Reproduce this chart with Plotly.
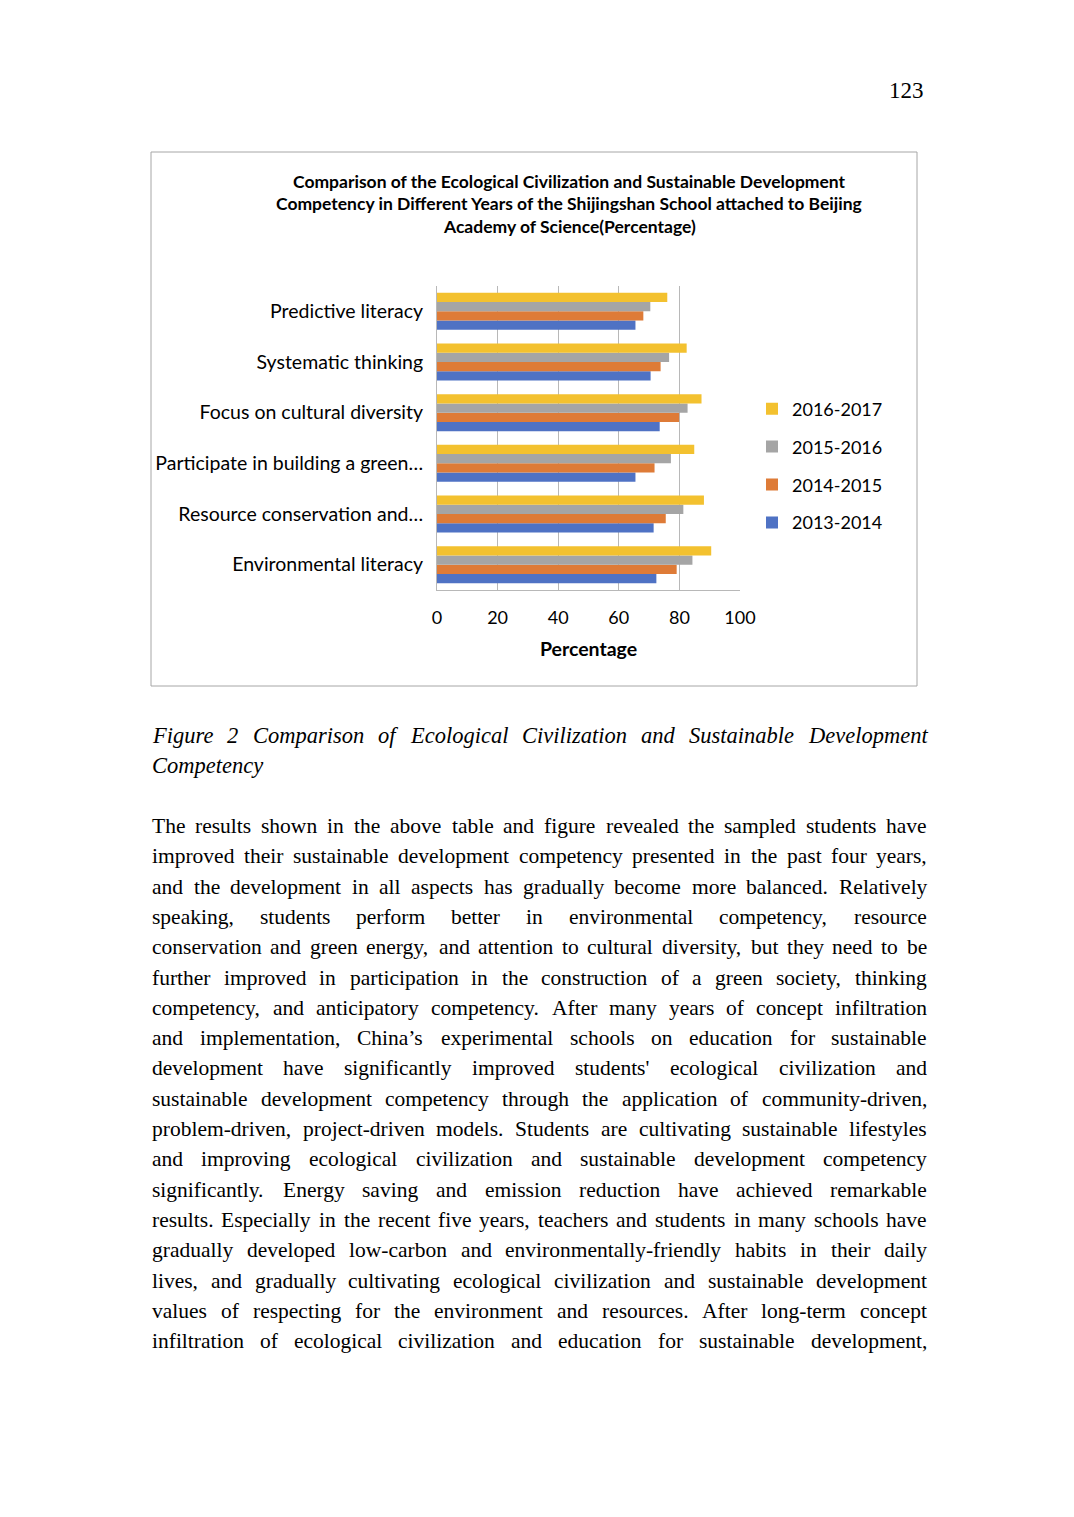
import plotly.graph_objects as go

# ---------------- data ----------------
categories = ["Environmental literacy", "Resource conservation and…",
              "Participate in building a green…", "Focus on cultural diversity",
              "Systematic thinking", "Predictive literacy"]
series_names = ["2013-2014", "2014-2015", "2015-2016", "2016-2017"]
v_2013_2014 = [72.4, 71.5, 65.5, 73.5, 70.5, 65.5]
v_2014_2015 = [79.1, 75.5, 71.8, 79.9, 73.8, 68.1]
v_2015_2016 = [84.3, 81.3, 77.2, 82.7, 76.6, 70.4]
v_2016_2017 = [90.5, 88.1, 84.9, 87.3, 82.4, 76.0]
x_tick_vals = [0, 20, 40, 60, 80, 100]
series_colors = ["#4F72C4", "#DE7B37", "#A5A5A5", "#F3C12F"]

chart_title_lines = [
    "Comparison of the Ecological Civilization and Sustainable Development",
    "Competency in Different Years of the Shijingshan School attached to Beijing",
    "Academy of Science(Percentage)",
]
x_title = "Percentage"
page_number = "123"
caption_lines = [
    "Figure 2 Comparison of Ecological Civilization and Sustainable Development",
    "Competency",
]
body_lines = [
    "The results shown in the above table and figure revealed the sampled students have",
    "improved their sustainable development competency presented in the past four years,",
    "and the development in all aspects has gradually become more balanced. Relatively",
    "speaking, students perform better in environmental competency, resource",
    "conservation and green energy, and attention to cultural diversity, but they need to be",
    "further improved in participation in the construction of a green society, thinking",
    "competency, and anticipatory competency. After many years of concept infiltration",
    "and implementation, China’s experimental schools on education for sustainable",
    "development have significantly improved students' ecological civilization and",
    "sustainable development competency through the application of community-driven,",
    "problem-driven, project-driven models. Students are cultivating sustainable lifestyles",
    "and improving ecological civilization and sustainable development competency",
    "significantly. Energy saving and emission reduction have achieved remarkable",
    "results. Especially in the recent five years, teachers and students in many schools have",
    "gradually developed low-carbon and environmentally-friendly habits in their daily",
    "lives, and gradually cultivating ecological civilization and sustainable development",
    "values of respecting for the environment and resources. After long-term concept",
    "infiltration of ecological civilization and education for sustainable development,",
]

# ---------------- page geometry ----------------
# page body has an 8px margin inside the 1074x1517 window
OFF = 8
W, H = 1074 - 2 * OFF, 1517 - 2 * OFF


def px(x):
    return (x - OFF) / W


def py(y):
    return 1 - (y - OFF) / H


# Times (Liberation Serif) advance widths, per 1000 em
ROMAN = dict(zip("abcdefghijklmnopqrstuvwxyz",
                 [444, 500, 444, 500, 444, 333, 500, 500, 278, 278, 500, 278, 778,
                  500, 500, 500, 500, 333, 389, 278, 500, 500, 722, 500, 500, 444]))
ROMAN.update(dict(zip("ABCDEFGHIJKLMNOPQRSTUVWXYZ",
                      [722, 667, 667, 722, 611, 556, 722, 722, 333, 389, 722, 611, 889,
                       722, 722, 556, 722, 667, 556, 611, 722, 722, 944, 722, 722, 611])))
ROMAN.update({",": 250, ".": 250, "'": 180, "’": 333, "-": 333, "(": 333, ")": 333, " ": 250})
ITALIC = dict(zip("abcdefghijklmnopqrstuvwxyz",
                  [500, 500, 444, 500, 444, 278, 500, 500, 278, 278, 444, 278, 722,
                   500, 500, 500, 500, 389, 389, 278, 500, 444, 667, 444, 444, 389]))
ITALIC.update(dict(zip("ABCDEFGHIJKLMNOPQRSTUVWXYZ",
                       [611, 611, 667, 722, 611, 611, 722, 722, 333, 444, 667, 556, 833,
                        667, 722, 611, 722, 611, 500, 556, 722, 611, 833, 611, 556, 556])))
ITALIC.update({",": 250, ".": 250, " ": 250})


def width_em(s, table):
    return sum(table.get(c, 500) for c in s) / 1000.0


TEXT_LEFT, TEXT_RIGHT = 151, 926
TEXT_W = TEXT_RIGHT - TEXT_LEFT
serif = "Liberation Serif, Times New Roman, serif"

body_size = min(TEXT_W / width_em(l, ROMAN) for l in body_lines)
body_size = min(body_size, 21.5)

annotations = []


def justified(line, y, size, table, italic=False, justify=True):
    words = line.split(" ")
    wid = [width_em(w, table) * size for w in words]
    if justify and len(words) > 1:
        gap = (TEXT_W - sum(wid)) / (len(words) - 1)
    else:
        gap = 0.25 * size
    x = TEXT_LEFT
    for w, ww in zip(words, wid):
        t = "<i>%s</i>" % w if italic else w
        annotations.append(dict(x=px(x), y=py(y), xref="paper", yref="paper",
                                text=t, showarrow=False, xanchor="left", yanchor="middle",
                                borderpad=0,
                                font=dict(family=serif, size=size, color="#000000")))
        x += ww + gap


for i, line in enumerate(body_lines):
    justified(line, 826 + i * 30.3, body_size, ROMAN)

cap_size = min(TEXT_W / width_em(caption_lines[0], ITALIC) * 0.96, 22.5)
justified(caption_lines[0], 735, cap_size, ITALIC, italic=True, justify=True)
justified(caption_lines[1], 765, cap_size, ITALIC, italic=True, justify=False)

annotations.append(dict(x=px(926), y=py(90), xref="paper", yref="paper", text=page_number,
                        showarrow=False, xanchor="right", yanchor="middle",
                        font=dict(family=serif, size=23, color="#000000")))

sans = "Lato, Open Sans, sans-serif"
for i, t in enumerate(chart_title_lines):
    annotations.append(dict(x=px(569), y=py(181 + i * 22.6), xref="paper", yref="paper",
                            text="<b>%s</b>" % t, showarrow=False, xanchor="center",
                            yanchor="middle", font=dict(family=sans, size=17.5, color="#000000")))

# ---------------- figure ----------------
fig = go.Figure()
series_vals = [v_2013_2014, v_2014_2015, v_2015_2016, v_2016_2017]
n = len(series_names)
for k, (name, vals, col) in enumerate(zip(series_names, series_vals, series_colors)):
    fig.add_trace(go.Bar(y=categories, x=vals, name=name, orientation="h",
                         marker=dict(color=col, line=dict(width=0)),
                         legendgroup=name, legendrank=n - k))

fig.update_layout(
    template="none",
    width=W, height=H,
    margin=dict(l=0, r=0, t=0, b=0),
    paper_bgcolor="white", plot_bgcolor="white",
    barmode="group", bargap=0.27, bargroupgap=0,
    font=dict(family=sans, size=18, color="#000000"),
    showlegend=True,
    legend=dict(x=px(752), y=py(466), xanchor="left", yanchor="middle",
                traceorder="grouped", tracegroupgap=11.5,
                font=dict(family=sans, size=18, color="#000000"),
                bgcolor="rgba(0,0,0,0)", itemwidth=30),
    xaxis=dict(domain=[px(437), px(740)], range=[0, 100], tickvals=x_tick_vals,
               showgrid=True, gridcolor="#b8b8b8", gridwidth=1,
               showline=True, linecolor="#b8b8b8", linewidth=1,
               zeroline=False, ticks="", automargin=False,
               ticklabelstandoff=11,
               tickfont=dict(family=sans, size=18, color="#000000"),
               title=dict(text="<b>%s</b>" % x_title, standoff=15,
                          font=dict(family=sans, size=19.5, color="#000000"))),
    yaxis=dict(domain=[py(590), py(286)], type="category",
               showgrid=False, showline=True, linecolor="#b8b8b8", linewidth=1,
               zeroline=False, ticks="", automargin=False, ticklabelstandoff=9,
               tickfont=dict(family=sans, size=19.5, color="#000000")),
    annotations=annotations,
    shapes=[dict(type="rect", xref="paper", yref="paper",
                 x0=px(151), x1=px(917), y0=py(686), y1=py(152),
                 line=dict(color="#a6a6a6", width=1), fillcolor="rgba(0,0,0,0)")],
)

fig.write_html("out.html")
